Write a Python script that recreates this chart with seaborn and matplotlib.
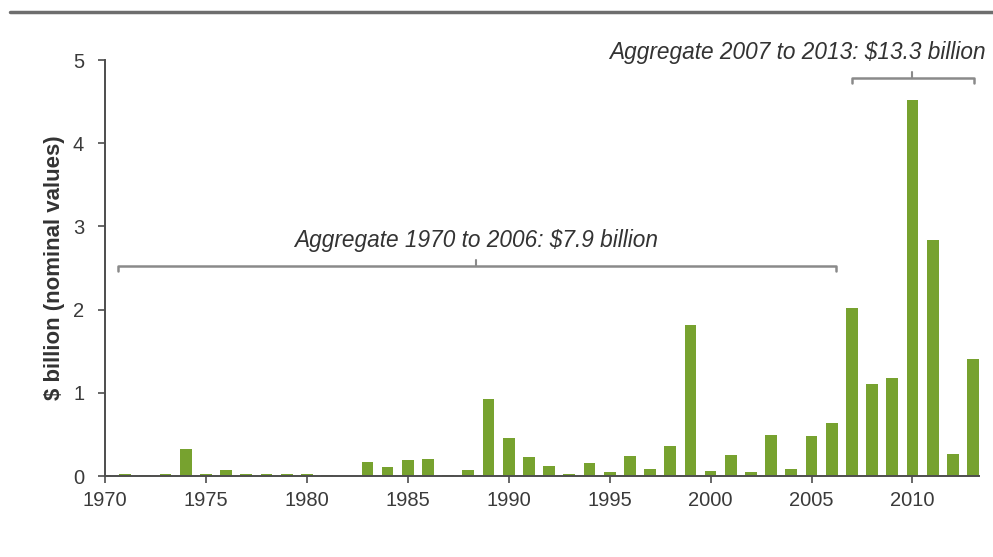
import matplotlib
matplotlib.use("Agg")
import matplotlib.pyplot as plt
import seaborn as sns
import pandas as pd
from matplotlib.lines import Line2D

# Annual values, $ billion (nominal)
years = list(range(1970, 2014))
values = [
    0.01, 0.02, 0.01, 0.02, 0.32, 0.03, 0.07, 0.03, 0.03, 0.02,   # 1970-1979
    0.03, 0.01, 0.00, 0.17, 0.11, 0.19, 0.21, 0.01, 0.07, 0.93,   # 1980-1989
    0.46, 0.23, 0.12, 0.02, 0.16, 0.05, 0.24, 0.08, 0.36, 1.82,   # 1990-1999
    0.06, 0.25, 0.05, 0.49, 0.09, 0.48, 0.64,                     # 2000-2006
    2.02, 1.10, 1.18, 4.52, 2.84, 0.26, 1.41,                     # 2007-2013
]
tick_years = list(range(1970, 2011, 5))
periods = [(1970, 2006), (2007, 2013)]

df = pd.DataFrame({"year": years, "value": values})

sns.set_theme(style="white")
plt.rcParams["font.family"] = ["Liberation Sans", "DejaVu Sans"]

fig = plt.figure(figsize=(9.93, 5.57), dpi=100)
ax = fig.add_axes([0.1057, 0.1454, 0.8803, 0.7468])

sns.barplot(data=df, x="year", y="value", color="#77a22f", saturation=1,
            width=0.58, ax=ax, linewidth=0)

ax.set_ylim(0, 5)
ax.set_xlim(0, len(years) - 0.7)
ax.set_yticks([0, 1, 2, 3, 4, 5])
ax.set_xticks([years.index(y) for y in tick_years])
ax.set_xticklabels([str(y) for y in tick_years])

for side in ("top", "right"):
    ax.spines[side].set_visible(False)
for side in ("left", "bottom"):
    ax.spines[side].set_color("#4d4d4d")
    ax.spines[side].set_linewidth(1.4)

ax.tick_params(axis="both", which="major", direction="out", length=5,
               width=1.2, color="#4d4d4d", labelcolor="#3a3a3a",
               labelsize=14.5)
ax.tick_params(axis="x", pad=6, bottom=True)
ax.tick_params(axis="y", pad=10, left=True)

ax.set_xlabel("")
ax.set_ylabel("$ billion (nominal values)", fontsize=16, fontweight="bold",
              color="#333333", labelpad=6)

# Period brackets with aggregate totals
bracket_color = "#8a8a8a"
specs = [
    # (period, x0, x1, xmid, bracket y, text x, text y)
    (periods[0], 0.67, 36.2, 18.4, 2.53, 18.4, 2.83),
    (periods[1], 37.0, 43.06, 40.0, 4.79, 34.3, 5.09),
]
for (p0, p1), x0, x1, xm, yb, tx, ty in specs:
    total = sum(v for y, v in zip(years, values) if p0 <= y <= p1)
    hook = 0.07
    ax.add_line(Line2D([x0, x0, x1, x1], [yb - hook, yb, yb, yb - hook],
                       color=bracket_color, lw=1.8, clip_on=False))
    ax.add_line(Line2D([xm, xm], [yb, yb + hook], color=bracket_color,
                       lw=1.5, clip_on=False))
    ax.text(tx, ty, f"Aggregate {p0} to {p1}: ${total:.1f} billion",
            ha="center", va="center", fontsize=16.3, style="italic",
            color="#333333", clip_on=False)

# Rule across the top of the figure
fig.add_artist(Line2D([0.01, 1.0], [1 - 12 / 557, 1 - 12 / 557],
                      color="#6e6e6e", lw=2.5, transform=fig.transFigure))

fig.savefig("out.png", dpi=100, facecolor="white")
